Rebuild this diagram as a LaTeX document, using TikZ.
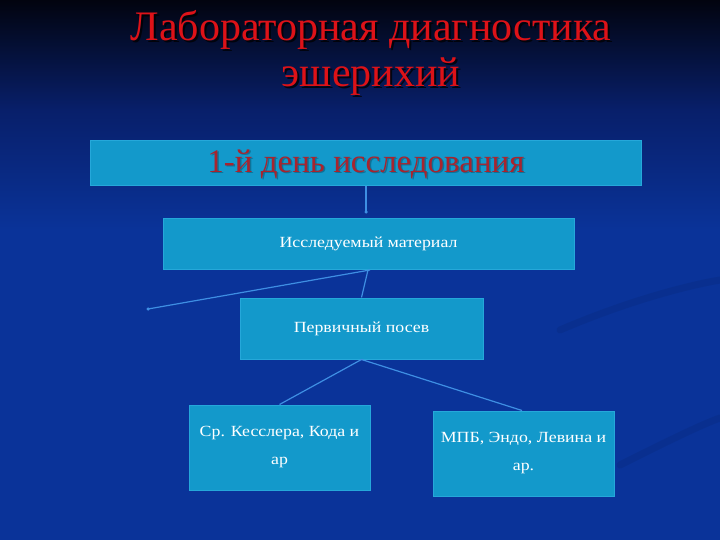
\documentclass[tikz,border=0pt]{standalone}
\usepackage{fontspec}
\setmainfont{Liberation Serif}
\newfontfamily\boxfont[FakeStretch=1.15]{Liberation Serif}
\definecolor{bgtop}{HTML}{02040F}
\definecolor{bgmid}{HTML}{081F6A}
\definecolor{bgbot}{HTML}{0A3399}
\definecolor{boxfill}{HTML}{1399CB}
\definecolor{boxline}{HTML}{25A8DA}
\definecolor{conn}{HTML}{3E8FE3}
\definecolor{titlered}{HTML}{DD1218}
\definecolor{daytext}{HTML}{A8242E}
\tikzset{
  stepbox/.style={draw=boxline, line width=1pt, fill=boxfill, inner sep=0pt, text=white, align=center, font=\boxfont\fontsize{15.5}{28}\selectfont},
  conline/.style={draw=conn, line width=1.2pt},
  enddot/.style={circle, fill=conn, inner sep=0pt, minimum size=3.5pt},
  titlefont/.style={font=\fontsize{42}{46}\selectfont, align=center},
  dayfont/.style={font=\fontsize{33}{36}\selectfont},
}
\begin{document}
\begin{tikzpicture}[x=1pt,y=-1pt]
\useasboundingbox (0,0) rectangle (720,540);
\fill[bgbot] (0,0) rectangle (720,540);
\shade[top color=bgtop, bottom color=bgmid] (0,0) rectangle (720,110);
\shade[top color=bgmid, bottom color=bgbot] (0,109.5) rectangle (720,230);
% faint swirl
\draw[bgtop, opacity=0.07, line width=7pt, line cap=round] (560,330) .. controls (630,300) and (690,285) .. (720,280);
\draw[bgtop, opacity=0.07, line width=7pt, line cap=round] (620,465) .. controls (660,445) and (700,425) .. (720,418);
% title
\node[text=black, opacity=0.75, titlefont] at (373,55) {Лабораторная диагностика\\эшерихий};
\node (title) [text=titlered, titlefont] at (371,53) {Лабораторная диагностика\\эшерихий};
% boxes
\node (b1) [stepbox, minimum width=551pt, minimum height=45pt] at (365.5,163.5) {};
\node[text=black, opacity=0.25, dayfont] at (367.5,165.5) {1-й день исследования};
\node[text=daytext, dayfont] at (366,164) {1-й день исследования};
\node (b2) [stepbox, minimum width=411pt, minimum height=51pt] at (368.5,244) {Исследуемый материал};
\node (b3) [stepbox, minimum width=243pt, minimum height=61pt] at (361.5,328.5) {Первичный посев};
\node (b4) [stepbox, minimum width=181pt, minimum height=85pt] at (279.5,447.5) {Ср. Кесслера, Кода и\\ар};
\node (b5) [stepbox, minimum width=181pt, minimum height=85pt] at (523.5,453.5) {МПБ, Эндо, Левина и\\ар.};
% connector ends
\coordinate (c1) at (366,212);
\coordinate (c2) at (148,309);
\node (d1) [enddot] at (c1) {};
\node (d2) [enddot] at (c2) {};
% connectors
\draw[conline] (b1.south -| c1) -- (c1);
\draw[conline] ([xshift=1.5pt]b2.south) -- (c2);
\draw[conline] ([xshift=-0.5pt]b2.south) -- (b3.north);
\draw[conline] (b3.south) -- (b4.north);
\draw[conline] (b3.south) -- ([xshift=-1.5pt]b5.north);
\end{tikzpicture}
\end{document}
